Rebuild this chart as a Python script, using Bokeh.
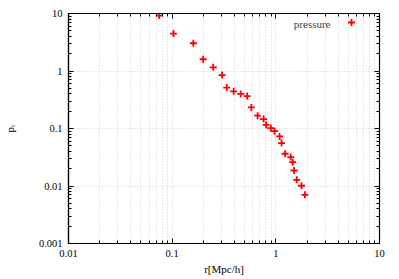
from bokeh.plotting import figure
from bokeh.models import (FixedTicker, LogAxis, Label, Legend, LegendItem,
                          CustomJSTickFormatter, ColumnDataSource)
from bokeh.embed import file_html
from bokeh.resources import INLINE

# data
r = [0.075, 0.103, 0.160, 0.199, 0.249, 0.303, 0.336, 0.392, 0.458, 0.529,
     0.580, 0.667, 0.762, 0.807, 0.895, 0.972, 1.087, 1.135, 1.228, 1.393,
     1.456, 1.50, 1.59, 1.77, 1.91]
pr = [9.2, 4.48, 3.04, 1.60, 1.16, 0.851, 0.514, 0.443, 0.40, 0.367,
      0.233, 0.167, 0.146, 0.116, 0.1016, 0.090, 0.0728, 0.0557, 0.0364, 0.0318,
      0.026, 0.0186, 0.0128, 0.0101, 0.00703]
x_ticks = [0.01, 0.1, 1, 10]
y_ticks = [0.001, 0.01, 0.1, 1, 10]
x_tick_labels = ["0.01", "0.1", "1", "10"]
y_tick_labels = ["0.001", "0.01", "0.1", "1", "10"]
series_name = "pressure"
x_title = "r[Mpc/h]"
y_title = "p\u1d63"

FONT = "Liberation Serif"

def minors(majors):
    return [m * k for m in majors[:-1] for k in range(2, 10)]

p = figure(width=399, height=279, x_axis_type="log", y_axis_type="log",
           x_range=(0.01, 10), y_range=(0.001, 10),
           output_backend="svg", toolbar_location=None,
           min_border_left=67, min_border_right=20,
           min_border_top=13, min_border_bottom=36)

p.outline_line_color = "black"
p.outline_line_width = 1.2
p.background_fill_color = "white"
p.border_fill_color = "white"

xt = FixedTicker(ticks=x_ticks, minor_ticks=minors(x_ticks))
yt = FixedTicker(ticks=y_ticks, minor_ticks=minors(y_ticks))

for ax, tk, labs in ((p.xaxis[0], xt, x_tick_labels), (p.yaxis[0], yt, y_tick_labels)):
    ax.ticker = tk
    ax.major_label_overrides = {t: l for t, l in zip(tk.ticks, labs)}
    ax.major_label_text_font = FONT
    ax.major_label_text_font_size = "10.5px"
    ax.major_label_text_color = "black"
    ax.axis_line_color = "black"
    ax.axis_line_width = 1.2
    ax.major_tick_in = 5
    ax.major_tick_out = 0
    ax.minor_tick_in = 3
    ax.minor_tick_out = 0
    ax.major_tick_line_color = "black"
    ax.minor_tick_line_color = "black"
    ax.major_label_standoff = 6
    ax.axis_label_text_font = FONT
    ax.axis_label_text_font_size = "11px"
    ax.axis_label_text_font_style = "normal"
    ax.axis_label_text_color = "black"

p.xaxis[0].axis_label = x_title
p.xaxis[0].axis_label_standoff = 3
p.yaxis[0].axis_label = y_title
p.yaxis[0].axis_label_standoff = 20

blank = CustomJSTickFormatter(code="return ''")
top = LogAxis(ticker=xt, formatter=blank, major_tick_in=5, major_tick_out=0,
              minor_tick_in=3, minor_tick_out=0, major_label_standoff=0,
              major_label_text_font_size="1px", axis_line_color="black")
right = LogAxis(ticker=yt, formatter=blank, major_tick_in=5, major_tick_out=0,
                minor_tick_in=3, minor_tick_out=0, major_label_standoff=0,
                major_label_text_font_size="1px", axis_line_color="black")
p.add_layout(top, "above")
p.add_layout(right, "right")

p.xgrid.ticker = xt
p.ygrid.ticker = yt
p.xgrid.grid_line_color = "#d0d0d0"
p.xgrid.grid_line_dash = "1 2"
p.xgrid.minor_grid_line_color = "#d0d0d0"
p.xgrid.minor_grid_line_dash = "1 2"
p.ygrid.grid_line_color = "#d0d0d0"
p.ygrid.grid_line_dash = "1 2"

src = ColumnDataSource(dict(r=r, pr=pr))
rend = p.scatter("r", "pr", source=src, marker="cross", size=7,
                 line_color="red", line_width=1.8)

leg = Legend(items=[LegendItem(label=" ", renderers=[rend])],
             location=(274, 212), padding=0, margin=0, spacing=0,
             glyph_width=18, glyph_height=18, label_width=0, label_height=18,
             label_standoff=0, border_line_alpha=0, background_fill_alpha=0,
             label_text_font_size="1px")
p.add_layout(leg, "center")

p.add_layout(Label(x=262, y=220, x_units="screen", y_units="screen",
                   text=series_name, text_font=FONT, text_font_size="11px",
                   text_align="right", text_baseline="middle"))

open("out.html", "w").write(file_html(p, INLINE))
